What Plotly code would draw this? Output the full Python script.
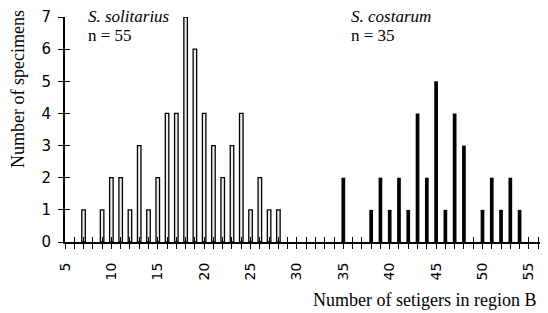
import plotly.graph_objects as go

# S. solitarius (open bars)
sol_x = [7, 9, 10, 11, 12, 13, 14, 15, 16, 17, 18, 19, 20, 21, 22, 23, 24, 25, 26, 27, 28]
sol_y = [1, 1, 2, 2, 1, 3, 1, 2, 4, 4, 7, 6, 4, 3, 2, 3, 4, 1, 2, 1, 1]

# S. costarum (solid bars)
cos_x = [35, 38, 39, 40, 41, 42, 43, 44, 45, 46, 47, 48, 50, 51, 52, 53, 54]
cos_y = [2, 1, 2, 1, 2, 1, 4, 2, 5, 1, 4, 3, 1, 2, 1, 2, 1]

x_ticks = list(range(5, 57))
x_ticktext = [str(v) if v % 5 == 0 else "" for v in x_ticks]
y_ticks = list(range(0, 8))

serif = "Liberation Serif"
sans = "DejaVu Sans"

fig = go.Figure()
fig.add_trace(go.Bar(x=sol_x, y=sol_y, width=0.38,
                     marker=dict(color="#eeeeee", line=dict(color="black", width=1.3)),
                     name="S. solitarius"))
fig.add_trace(go.Bar(x=cos_x, y=cos_y, width=0.4,
                     marker=dict(color="black", line=dict(width=0)),
                     name="S. costarum"))
# dummy trace to establish the overlaid axes (inner half of the crossing ticks)
fig.add_trace(go.Scatter(x=[None], y=[None], xaxis="x2", yaxis="y2",
                         showlegend=False, hoverinfo="skip"))

xr = [5, 56.2]
yr = [0, 7]
W, H = 548, 313
L, R, T, B = 65, 8, 17, 71
fig.update_layout(
    template="none",
    width=W, height=H,
    margin=dict(l=L, r=R, t=T, b=B, autoexpand=False),
    paper_bgcolor="white", plot_bgcolor="white",
    showlegend=False, barmode="overlay",
    xaxis=dict(range=xr, tickvals=x_ticks, ticktext=x_ticktext, tickangle=-90,
               ticks="outside", ticklen=5, tickwidth=1.3, tickcolor="black",
               showline=True, linecolor="black", linewidth=2, showgrid=False,
               zeroline=False, automargin=False,
               tickfont=dict(family=sans, size=14, color="black"),
               ticklabelstandoff=8),
    yaxis=dict(range=yr, tickvals=y_ticks, ticks="outside", ticklen=5, tickwidth=1.3,
               tickcolor="black", showline=True, linecolor="black", linewidth=2,
               showgrid=False, zeroline=False, automargin=False,
               tickfont=dict(family=sans, size=15, color="black"),
               ticklabelstandoff=4),
    xaxis2=dict(range=xr, overlaying="x", anchor="y", side="bottom",
                tickvals=x_ticks, ticks="inside", ticklen=5, tickwidth=1.3,
                tickcolor="black", showticklabels=False, showline=False,
                showgrid=False, zeroline=False, automargin=False),
    yaxis2=dict(range=yr, overlaying="y", anchor="x", side="left",
                tickvals=y_ticks, ticks="inside", ticklen=5, tickwidth=1.3,
                tickcolor="black", showticklabels=False, showline=False,
                showgrid=False, zeroline=False, automargin=False),
)

ann_font = dict(family=serif, size=17, color="black")
title_font = dict(family=serif, size=18, color="black")
fig.add_annotation(x=7.25, y=1.0, xref="x", yref="paper", yshift=1,
                   text="<i>S. solitarius</i>", showarrow=False,
                   xanchor="left", yanchor="middle", font=ann_font)
fig.add_annotation(x=7.25, y=1.0, xref="x", yref="paper", yshift=-18,
                   text="n = 55", showarrow=False,
                   xanchor="left", yanchor="middle", font=ann_font)
fig.add_annotation(x=35.6, y=1.0, xref="x", yref="paper", yshift=1,
                   text="<i>S. costarum</i>", showarrow=False,
                   xanchor="left", yanchor="middle", font=ann_font)
fig.add_annotation(x=35.6, y=1.0, xref="x", yref="paper", yshift=-18,
                   text="n = 35", showarrow=False,
                   xanchor="left", yanchor="middle", font=ann_font)

# axis titles, placed by pixel position converted to paper coordinates
pw = W - L - R
ph = H - T - B
def px_to_paper(px, py):
    return (px - L) / pw, ((H - py) - B) / ph

tx, ty = px_to_paper(18, 89)
fig.add_annotation(x=tx, y=ty, xref="paper", yref="paper",
                   text="Number of specimens", textangle=-90, showarrow=False,
                   xanchor="center", yanchor="middle", font=title_font)
tx, ty = px_to_paper(538, 300)
fig.add_annotation(x=tx, y=ty, xref="paper", yref="paper",
                   text="Number of setigers in region B", showarrow=False,
                   xanchor="right", yanchor="middle", font=title_font)

fig.write_html("out.html", config={"displayModeBar": False},
               post_script="document.body.style.margin='0';document.body.style.padding='0';")
